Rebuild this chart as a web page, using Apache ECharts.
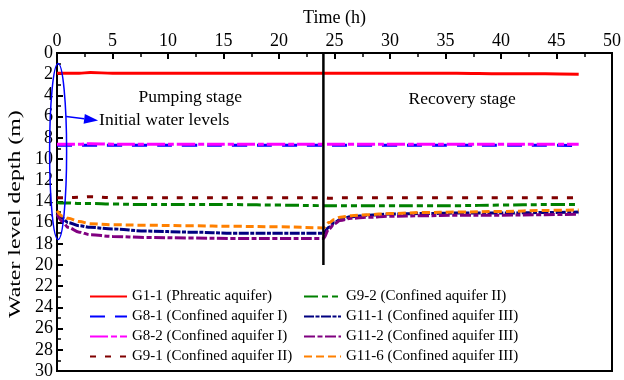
<!DOCTYPE html>
<html>
<head>
<meta charset="utf-8">
<script src="https://cdn.jsdelivr.net/npm/echarts@6/dist/echarts.min.js"></script>
<style>
  html, body { margin: 0; padding: 0; background: #fff; }
  #chart { width: 624px; height: 380px; }
</style>
</head>
<body>
<div id="chart"></div>
<script>
// Observation times (h) shared by every well record
const times = [0, 0.5, 1, 2, 3, 5, 8, 12, 16, 20, 24, 24.5, 25, 25.5, 26.5, 28, 30, 33, 36, 40, 44, 47];

// Water level depth below surface (m) per monitoring well
const g1_1  = [1.9, 1.9, 1.9, 1.9, 1.85, 1.9, 1.9, 1.9, 1.9, 1.9, 1.9, 1.9, 1.9, 1.9, 1.9, 1.9, 1.9, 1.9, 1.9, 1.95, 1.95, 2.0];
const g8_1  = [8.7, 8.7, 8.7, 8.7, 8.7, 8.7, 8.7, 8.7, 8.7, 8.7, 8.7, 8.7, 8.7, 8.7, 8.7, 8.7, 8.7, 8.7, 8.7, 8.7, 8.7, 8.75];
const g8_2  = [8.6, 8.6, 8.6, 8.6, 8.55, 8.6, 8.6, 8.6, 8.6, 8.6, 8.6, 8.6, 8.6, 8.6, 8.6, 8.6, 8.6, 8.6, 8.6, 8.6, 8.6, 8.6];
const g9_1  = [13.65, 13.65, 13.65, 13.6, 13.55, 13.65, 13.65, 13.65, 13.65, 13.65, 13.65, 13.7, 13.7, 13.65, 13.65, 13.65, 13.65, 13.65, 13.65, 13.65, 13.65, 13.65];
const g9_2  = [14.1, 14.15, 14.15, 14.2, 14.2, 14.25, 14.3, 14.3, 14.3, 14.35, 14.4, 14.4, 14.4, 14.4, 14.4, 14.4, 14.4, 14.4, 14.4, 14.35, 14.3, 14.3];
const g11_1 = [15.0, 15.6, 16.0, 16.3, 16.45, 16.6, 16.8, 16.9, 17.0, 17.0, 17.0, 16.45, 16.0, 15.7, 15.45, 15.3, 15.2, 15.15, 15.1, 15.1, 15.05, 15.0];
const g11_2 = [15.2, 15.9, 16.45, 16.9, 17.15, 17.3, 17.4, 17.45, 17.5, 17.5, 17.5, 16.6, 16.1, 15.8, 15.6, 15.5, 15.4, 15.35, 15.3, 15.3, 15.25, 15.2];
const g11_6 = [14.9, 15.4, 15.6, 15.9, 16.1, 16.2, 16.25, 16.3, 16.35, 16.4, 16.5, 16.0, 15.7, 15.5, 15.35, 15.25, 15.15, 15.05, 15.0, 14.95, 14.85, 14.8];

// Pumping stops at this time; the divider is drawn down to this depth
const switchTime = 24;
const dividerDepth = [0, 20];

// Axis tick ranges
const timeRange = [0, 50, 5];
const depthRange = [0, 30, 2];

const FONT = '"Liberation Serif", "Times New Roman", serif';

function pairs(vals) {
  return times.map((t, i) => [t, vals[i]]);
}

function lineSeries(name, vals, color, dash, width) {
  return {
    name: name,
    type: 'line',
    data: pairs(vals),
    showSymbol: false,
    symbol: 'none',
    smooth: 0.35,
    smoothMonotone: 'x',
    lineStyle: { color: color, width: width || 3, type: dash },
    itemStyle: { color: color },
    z: 3
  };
}

const chart = echarts.init(document.getElementById('chart'), null, { renderer: 'canvas' });

const names = [
  'G1-1 (Phreatic aquifer)',
  'G8-1 (Confined aquifer I)',
  'G8-2 (Confined aquifer I)',
  'G9-1 (Confined aquifer II)',
  'G9-2 (Confined aquifer II)',
  'G11-1 (Confined aquifer III)',
  'G11-2 (Confined aquifer III)',
  'G11-6 (Confined aquifer III)'
];

const legendCommon = {
  orient: 'vertical',
  top: 284,
  itemGap: 5,
  itemWidth: 37,
  itemHeight: 14,
  selectedMode: false,
  itemStyle: { opacity: 0 },
  textStyle: { fontFamily: FONT, fontSize: 15, color: '#000' }
};

const option = {
  animation: false,
  backgroundColor: '#fff',
  grid: {
    left: 57, right: 10, top: 53, bottom: 2,
    show: true, borderColor: '#000', borderWidth: 2, backgroundColor: 'transparent'
  },
  legend: [
    Object.assign({ left: 84, data: names.slice(0, 4) }, legendCommon),
    Object.assign({ left: 298, data: names.slice(4) }, legendCommon)
  ],
  xAxis: {
    type: 'value',
    position: 'top',
    min: timeRange[0], max: timeRange[1], interval: timeRange[2],
    name: 'Time (h)',
    nameLocation: 'middle',
    nameGap: 25,
    nameTextStyle: { fontFamily: FONT, fontSize: 18, color: '#000' },
    axisLine: { show: true, lineStyle: { color: '#000', width: 2 } },
    axisTick: { show: true, inside: true, length: 6, lineStyle: { color: '#000', width: 2 } },
    minorTick: { show: true, splitNumber: 2, length: 4, lineStyle: { color: '#000', width: 1.5 } },
    splitLine: { show: false },
    axisLabel: { fontFamily: FONT, fontSize: 18, color: '#000', margin: 3 }
  },
  yAxis: {
    type: 'value',
    inverse: true,
    min: depthRange[0], max: depthRange[1], interval: depthRange[2],
    axisLine: { show: true, lineStyle: { color: '#000', width: 2 } },
    axisTick: { show: true, inside: true, length: 6, lineStyle: { color: '#000', width: 2 } },
    minorTick: { show: true, splitNumber: 2, length: 4, lineStyle: { color: '#000', width: 1.5 } },
    splitLine: { show: false },
    axisLabel: { fontFamily: FONT, fontSize: 18, color: '#000', margin: 4 }
  },
  series: [
    lineSeries(names[0], g1_1, '#ff0000', 'solid'),
    lineSeries(names[1], g8_1, '#0000ff', [15, 10]),
    lineSeries(names[2], g8_2, '#ff00ff', [18, 3, 6, 3]),
    lineSeries(names[3], g9_1, '#800000', [6, 9]),
    lineSeries(names[4], g9_2, '#008000', [14, 4, 6, 4, 6, 4]),
    lineSeries(names[5], g11_1, '#000080', [10, 1.5, 4, 1.5]),
    lineSeries(names[6], g11_2, '#800080', [11, 2.5, 5, 2.5]),
    lineSeries(names[7], g11_6, '#ff8000', [8, 4]),
    {
      name: 'stage divider',
      type: 'line',
      data: dividerDepth.map(d => [switchTime, d]),
      symbol: 'none',
      lineStyle: { color: '#000', width: 2.5 },
      z: 4,
      silent: true
    }
  ]
};

chart.setOption(option);

// Stage labels, the depth-axis title and the callout ringing the starting levels
const px = (t, d) => chart.convertToPixel({ gridIndex: 0 }, [t, d]);
const ringTop = px(0.1, 1.0);
const ringBottom = px(0.1, 17.6);
const ringCx = ringTop[0];
const ringCy = (ringTop[1] + ringBottom[1]) / 2;
const ringRy = (ringBottom[1] - ringTop[1]) / 2;
const ringRx = 8.5;
const arrowStart = [ringCx + 8, ringCy - 35];
const arrowEnd = [ringCx + 40, ringCy - 31];
const ang = Math.atan2(arrowEnd[1] - arrowStart[1], arrowEnd[0] - arrowStart[0]);
const headLen = 14, headHalf = 5;
const bx = arrowEnd[0] - headLen * Math.cos(ang), by = arrowEnd[1] - headLen * Math.sin(ang);
const nx = -Math.sin(ang), ny = Math.cos(ang);

const pumpPos = px(12, 4.2);
const recovPos = px(36.5, 4.4);
const depthTitlePos = px(0, 15.2);

chart.setOption({
  graphic: [
    {
      type: 'text',
      x: 16, y: depthTitlePos[1],
      rotation: Math.PI / 2,
      scaleX: 1.4,
      style: { text: 'Water level depth (m)', font: '17px ' + FONT, fill: '#000', align: 'center', verticalAlign: 'middle' },
      z: 10
    },
    {
      type: 'ellipse',
      shape: { cx: ringCx, cy: ringCy, rx: ringRx, ry: ringRy },
      style: { fill: 'none', stroke: '#0000ff', lineWidth: 1.5 },
      z: 10
    },
    {
      type: 'line',
      shape: { x1: arrowStart[0], y1: arrowStart[1], x2: bx, y2: by },
      style: { stroke: '#0000ff', lineWidth: 1.5 },
      z: 10
    },
    {
      type: 'polygon',
      shape: { points: [arrowEnd, [bx + nx * headHalf, by + ny * headHalf], [bx - nx * headHalf, by - ny * headHalf]] },
      style: { fill: '#0000ff' },
      z: 10
    },
    {
      type: 'text',
      x: arrowEnd[0] + 1, y: arrowEnd[1],
      style: { text: 'Initial water levels', font: '17.5px ' + FONT, fill: '#000', verticalAlign: 'middle', align: 'left' },
      z: 10
    },
    {
      type: 'text',
      x: pumpPos[0], y: pumpPos[1],
      style: { text: 'Pumping stage', font: '17.5px ' + FONT, fill: '#000', align: 'center', verticalAlign: 'middle' },
      z: 10
    },
    {
      type: 'text',
      x: recovPos[0], y: recovPos[1],
      style: { text: 'Recovery stage', font: '17.5px ' + FONT, fill: '#000', align: 'center', verticalAlign: 'middle' },
      z: 10
    }
  ]
});
</script>
</body>
</html>
